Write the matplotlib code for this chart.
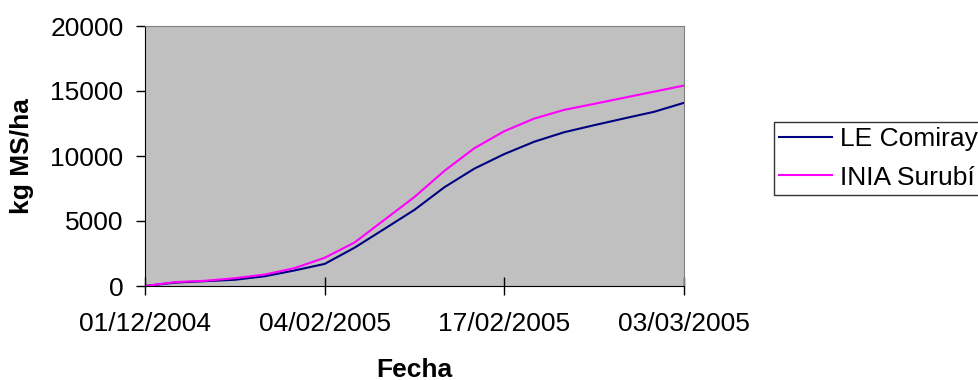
import numpy as np
import matplotlib.pyplot as plt

plt.rcParams['font.family'] = ['Liberation Sans', 'DejaVu Sans']

# fechas de muestreo (eje de categorias, etiqueta cada 6 puntos)
fechas = ['01/12/2004', '', '', '', '', '',
          '04/02/2005', '', '', '', '', '',
          '17/02/2005', '', '', '', '', '',
          '03/03/2005']
le_comiray = [0, 260, 370, 480, 750, 1200, 1700, 2950, 4400, 5860,
              7600, 9030, 10150, 11100, 11830, 12370, 12890, 13400, 14090]
inia_surubi = [0, 300, 400, 600, 880, 1380, 2170, 3350, 5100, 6850,
               8860, 10600, 11910, 12880, 13550, 14010, 14480, 14950, 15420]

x = np.arange(len(fechas))
fs = 19

fig = plt.figure(figsize=(9.79, 3.80), dpi=100)
ax = fig.add_axes([145/979, 94/380, 539/979, 260/380])
ax.set_facecolor('#C0C0C0')

ax.plot(x, le_comiray, color='#000080', lw=1.5, label='LE Comiray')
ax.plot(x, inia_surubi, color='#FF00FF', lw=1.5, label='INIA Surubí')

ax.set_xlim(0, len(fechas) - 1)
ax.set_ylim(0, 20000)
ax.set_yticks([0, 5000, 10000, 15000, 20000])
ax.set_xticks(x[::6])
ax.set_xticklabels([f for f in fechas if f])

ax.tick_params(axis='x', direction='inout', length=13, width=1, labelsize=fs, pad=12)
ax.tick_params(axis='y', direction='out', length=6.5, width=1, labelsize=fs, pad=9)

for s in ['top', 'right']:
    ax.spines[s].set_color('#808080')
for s in ['left', 'bottom']:
    ax.spines[s].set_color('black')

ax.set_xlabel('Fecha', fontsize=fs, fontweight='bold', labelpad=16)
ax.set_ylabel('kg MS/ha', fontsize=fs, fontweight='bold', labelpad=12)

leg = fig.legend(loc='lower left', bbox_to_anchor=(774/979, 1 - 195/380),
                 fontsize=fs, frameon=True, fancybox=False, edgecolor='black',
                 handlelength=2.0, handletextpad=0.3, borderpad=0.2,
                 labelspacing=0.55, borderaxespad=0)
leg.get_frame().set_linewidth(1)

fig.savefig('out.png', dpi=100)
